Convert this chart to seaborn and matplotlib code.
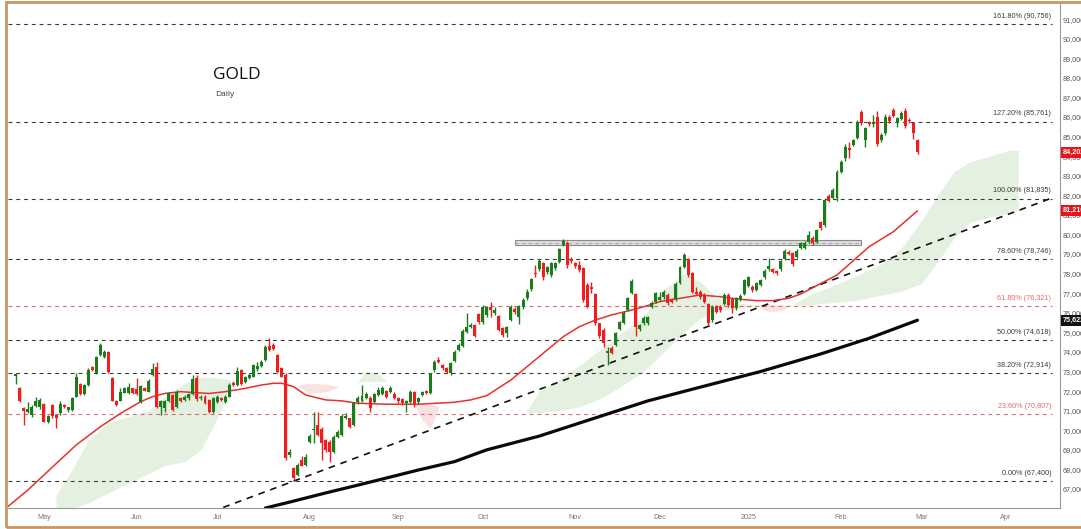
import pandas as pd
import seaborn as sns
import matplotlib.pyplot as plt
from matplotlib.patches import Rectangle

# ---------------- data ----------------
first_day = '2024-04-22'
last_day = '2025-02-28'

opens = [
    72750, 72160, 71120, 70950, 70780, 71240, 71200, 71340, 70440, 71290,
    70780, 70870, 71290, 71060, 71030, 71720, 72360, 71850, 72310, 73210,
    72870, 73840, 73760, 74010, 72650, 71510, 71510, 71920, 71890, 72140,
    72090, 71460, 72140, 71970, 72820, 73210, 71170, 71130, 71510, 71800,
    71210, 71630, 71550, 71630, 71850, 72650, 71650, 71720, 71550, 70950,
    71460, 71630, 71460, 71720, 72430, 72310, 73080, 72480, 72650, 72740,
    73110, 73300, 73590, 74300, 74350, 73840, 73160, 72820, 68740, 68060,
    67720, 68480, 68230, 69420, 70000, 70270, 70050, 69500, 69420, 68910,
    69680, 69760, 70610, 70610, 70270, 71430, 71500, 71630, 71670, 71430,
    71800, 71840, 72000, 71940, 71870, 71630, 71600, 71390, 71460, 71940,
    71430, 71800, 72000, 71890, 73080, 73590, 73330, 73200, 72900, 73540,
    74100, 74320, 75040, 75290, 75380, 75920, 75520, 75890, 76280, 75970,
    75840, 75200, 74980, 75630, 76210, 75770, 76280, 76740, 77200, 78050,
    78220, 78530, 78100, 77930, 78270, 78610, 79460, 79580, 78730, 78530,
    78440, 78270, 77420, 77330, 76960, 75460, 75120, 73960, 74190, 74360,
    75160, 75500, 76140, 77030, 76960, 75150, 75460, 75490, 76310, 76570,
    76650, 76790, 76910, 76680, 76690, 77500, 78350, 78730, 78010, 77080,
    77080, 76910, 76450, 75630, 76350, 76310, 76450, 76910, 76690, 76230,
    76690, 76960, 77370, 77300, 77160, 77420, 77810, 78220, 78220, 78150,
    78220, 78730, 79120, 79040, 78870, 79290, 79330, 79630, 79840, 79630,
    80650, 80480, 81980, 81850, 81850, 83210, 83890, 84400, 84570, 84910,
    86270, 84830, 85730, 85630, 86020, 84830, 85160, 86020, 86360, 85680,
    85900, 86310, 85850, 85680, 84820,
]
highs = [
    72950, 72220, 71200, 71460, 71290, 71700, 71650, 71400, 70800, 71320,
    70850, 71510, 71350, 71200, 71720, 72940, 72400, 72350, 73200, 73300,
    73800, 74440, 74100, 74050, 72700, 71550, 72140, 72200, 72400, 72180,
    72650, 72300, 72200, 72600, 73420, 73500, 71550, 71550, 71950, 71850,
    72050, 71700, 71800, 71900, 72820, 72820, 71800, 71780, 71600, 71700,
    71800, 71700, 71800, 72400, 72500, 73250, 73120, 72750, 72900, 73400,
    73500, 73600, 74350, 74690, 74450, 73900, 73250, 72900, 69060, 68100,
    68350, 68690, 68800, 69800, 70950, 70950, 70150, 69550, 69500, 69750,
    70000, 70850, 70870, 70650, 71450, 71750, 72310, 71950, 71750, 71900,
    72200, 72280, 72050, 72250, 71950, 71700, 71650, 71550, 72050, 72000,
    71700, 72000, 72050, 72950, 73600, 73760, 73400, 73250, 73500, 74100,
    74450, 75150, 75970, 75500, 75450, 76000, 76400, 76350, 76570, 76280,
    75900, 75250, 75350, 76400, 76300, 76420, 76740, 77200, 77800, 78440,
    78750, 78600, 78400, 78600, 78600, 79300, 79750, 79650, 78850, 78600,
    78660, 78350, 77500, 77590, 77000, 75500, 75200, 74270, 74300, 75000,
    75600, 76100, 76800, 77700, 77000, 75450, 75850, 75850, 76600, 77050,
    77080, 77150, 76990, 76750, 77550, 78400, 79030, 78800, 78100, 77330,
    77150, 76990, 76500, 76400, 76400, 76380, 76990, 76990, 76750, 76800,
    76950, 77750, 77900, 77400, 77550, 77750, 78250, 78780, 78300, 78200,
    78720, 79250, 79200, 79100, 79250, 79600, 79650, 80180, 79900, 80300,
    80700, 81850, 82050, 82350, 83300, 83800, 84600, 84740, 84900, 85830,
    86350, 85500, 85800, 86100, 86300, 85200, 86150, 86100, 86480, 86000,
    86300, 86480, 85950, 85750, 84900,
]
lows = [
    72360, 71460, 70270, 70900, 70660, 71200, 71100, 70400, 70350, 70640,
    70100, 70800, 71150, 70950, 71000, 71700, 71800, 71800, 72280, 73050,
    72850, 73800, 73700, 72950, 71480, 71250, 71480, 71880, 71850, 71850,
    71800, 71400, 71980, 71950, 72780, 71150, 70780, 70950, 71450, 70980,
    71150, 71450, 71500, 71550, 71800, 71500, 71550, 71350, 70900, 70900,
    71400, 71500, 71400, 71680, 72280, 72250, 72300, 72400, 72600, 72700,
    73050, 73250, 73550, 74050, 74100, 72950, 72700, 68500, 68650, 67460,
    67650, 68150, 68200, 69350, 69330, 69700, 68480, 68900, 68400, 68850,
    69600, 69700, 70550, 70100, 70200, 71350, 71450, 71580, 70950, 71380,
    71750, 71800, 71650, 71900, 71580, 71400, 71300, 70950, 71400, 71200,
    71350, 71750, 71850, 71850, 73000, 73420, 73100, 72950, 72820, 73500,
    74050, 74250, 74980, 75200, 74750, 75450, 75450, 75800, 75770, 75900,
    75050, 74780, 74750, 75560, 75950, 75430, 76200, 76650, 77120, 77840,
    78150, 77650, 78000, 77850, 78200, 78550, 79400, 78300, 78550, 78300,
    78100, 76550, 76250, 76990, 75400, 74700, 74270, 73340, 73900, 74300,
    75100, 75450, 76080, 76950, 74810, 75050, 75400, 75400, 76250, 76500,
    76600, 76720, 76400, 76500, 76600, 77450, 78300, 77850, 77000, 76900,
    76720, 76500, 75380, 75550, 75980, 76050, 76380, 76300, 75980, 76150,
    76620, 76900, 77300, 77050, 77100, 77350, 77750, 78150, 78050, 77950,
    78150, 78680, 78950, 78400, 78800, 79250, 79250, 79580, 79460, 79580,
    80230, 80400, 81650, 81800, 81710, 83150, 83750, 83890, 84500, 84850,
    85600, 84480, 85550, 85500, 84500, 84700, 85100, 85700, 86000, 85500,
    85850, 85450, 85700, 84900, 84100,
]
closes = [
    72850, 71500, 71000, 71100, 71200, 71510, 71550, 70440, 70730, 70730,
    70610, 71340, 71170, 71170, 71630, 72700, 71850, 72310, 73080, 73080,
    73720, 74350, 74010, 72990, 71510, 71290, 71970, 72140, 72230, 71890,
    71850, 72260, 72020, 72530, 73110, 71210, 71510, 71510, 71890, 71030,
    71970, 71510, 71720, 71850, 72600, 71580, 71700, 71410, 70950, 71630,
    71720, 71550, 71720, 72310, 72310, 73040, 72360, 72700, 72820, 73330,
    73300, 73500, 74270, 74100, 74130, 72990, 72740, 68570, 68910, 67550,
    68230, 68180, 68650, 69710, 70010, 69760, 69330, 68990, 68910, 69680,
    69930, 70750, 70750, 70180, 71370, 71670, 71750, 71850, 71150, 71840,
    72060, 72140, 71720, 72140, 71630, 71500, 71380, 71490, 71970, 71330,
    71630, 71940, 71900, 72900, 73500, 73470, 73160, 72990, 73420, 74010,
    74350, 75070, 75290, 75380, 74830, 75550, 76310, 76280, 76140, 76140,
    75120, 74870, 75260, 76310, 76060, 76350, 76650, 77080, 77710, 77980,
    78660, 77810, 78320, 78530, 78530, 79240, 79670, 78440, 78660, 78390,
    78190, 76650, 76310, 77200, 75460, 74810, 74440, 74070, 73960, 74950,
    75550, 76010, 76740, 77640, 75290, 75380, 75750, 75770, 76520, 76990,
    76820, 77080, 76480, 76570, 77470, 78320, 78950, 77930, 77080, 76960,
    76790, 76570, 75460, 76310, 76060, 76140, 76910, 76400, 76230, 76740,
    76860, 77670, 77840, 77160, 77500, 77670, 78150, 78390, 78100, 78020,
    78660, 79170, 79000, 78490, 79170, 79550, 79550, 79970, 79550, 80230,
    80350, 81760, 81710, 82270, 83210, 83720, 84480, 84310, 84830, 85760,
    85680, 85420, 85630, 85760, 84600, 85080, 86020, 85790, 86070, 85930,
    86190, 85560, 85790, 85160, 84202,
]

fib_names = ['161.80%', '127.20%', '100.00%', '78.60%', '61.80%',
             '50.00%', '38.20%', '23.60%', '0.00%']
fib_values = [90756, 85761, 81835, 78746, 76321, 74618, 72914, 70807, 67400]
fib_red = ['61.80%', '23.60%']

ma50_dates = ['2024-04-18', '2024-04-25', '2024-05-13', '2024-05-21', '2024-05-28',
              '2024-06-04', '2024-06-07', '2024-06-12', '2024-06-18', '2024-06-27',
              '2024-07-03', '2024-07-10', '2024-07-16', '2024-07-19', '2024-07-23',
              '2024-07-26', '2024-07-31', '2024-08-07', '2024-08-13', '2024-08-19',
              '2024-08-28', '2024-09-09', '2024-09-20', '2024-09-26', '2024-10-02',
              '2024-10-10', '2024-10-17', '2024-10-23', '2024-10-29', '2024-11-04',
              '2024-11-08', '2024-11-14', '2024-11-21', '2024-11-26', '2024-12-02',
              '2024-12-09', '2024-12-16', '2024-12-23', '2024-12-30', '2025-01-03',
              '2025-01-09', '2025-01-15', '2025-01-20', '2025-01-31', '2025-02-12',
              '2025-02-20', '2025-02-28']
ma50_values = [66100, 66950, 69250, 70180, 70860,
               71460, 71720, 71880, 71970, 71880,
               71970, 72140, 72310, 72400, 72400,
               72230, 71800, 71550, 71500, 71380,
               71330, 71330, 71430, 71550, 71770,
               72570, 73420, 74100, 74780, 75290,
               75630, 75890, 76140, 76310, 76570,
               76740, 76910, 76820, 76690, 76620,
               76620, 76740, 76960, 77930, 79380,
               80140, 81210]

ma200_dates = ['2024-07-17', '2024-07-25', '2024-08-07', '2024-08-20', '2024-09-09',
               '2024-09-20', '2024-10-02', '2024-10-21', '2024-11-11', '2024-11-27',
               '2024-12-16', '2025-01-06', '2025-01-27', '2025-02-12', '2025-02-28']
ma200_values = [66030, 66330, 66800, 67250, 67970,
                68400, 69000, 69700, 70700, 71500,
                72200, 73000, 73900, 74700, 75622]

trend_dates = ['2024-07-26', '2025-02-28']
trend_values = [67400, 79300]

# ichimoku cloud pieces: dates, upper edge, lower edge
cloud_g1_dates = ['2024-05-06', '2024-05-10', '2024-05-16', '2024-05-23', '2024-05-30',
                  '2024-06-06', '2024-06-12', '2024-06-19', '2024-06-25', '2024-06-28',
                  '2024-07-04', '2024-07-05']
cloud_g1_top = [66700, 68000, 69500, 70400, 70700, 71000, 71700, 72400, 72700, 72700, 72600, 72300]
cloud_g1_bot = [66000, 66000, 66300, 66800, 67300, 67800, 68200, 68400, 69000, 70200, 71900, 72300]

cloud_g2_dates = ['2024-08-19', '2024-08-21', '2024-08-26', '2024-08-28']
cloud_g2_top = [72500, 73000, 72900, 72550]
cloud_g2_bot = [72450, 72500, 72500, 72500]

cloud_g3_dates = ['2024-10-16', '2024-10-21', '2024-10-28', '2024-11-04', '2024-11-11',
                  '2024-11-18', '2024-11-26', '2024-12-03', '2024-12-10', '2024-12-16',
                  '2024-12-20', '2024-12-27', '2025-01-03']
cloud_g3_top = [71000, 72000, 72600, 73300, 74100, 74900, 75800, 77200, 78000, 77600,
                76800, 76500, 76400]
cloud_g3_bot = [70900, 70900, 71000, 71200, 71600, 72200, 73000, 74000, 75000, 75700,
                76100, 76200, 76350]

cloud_g4_dates = ['2025-01-16', '2025-01-22', '2025-01-29', '2025-02-07', '2025-02-17',
                  '2025-02-24', '2025-03-03', '2025-03-07', '2025-03-13', '2025-03-19',
                  '2025-03-26', '2025-04-02', '2025-04-04']
cloud_g4_top = [76420, 76900, 77300, 77900, 78500, 79300, 80700, 82000, 83200, 83700,
                84000, 84300, 84300]
cloud_g4_bot = [76400, 76400, 76500, 76650, 76900, 77100, 77500, 78600, 79800, 80600,
                80900, 81100, 81200]

cloud_r1_dates = ['2024-07-29', '2024-08-01', '2024-08-07', '2024-08-12']
cloud_r1_top = [72300, 72400, 72350, 72250]
cloud_r1_bot = [72250, 71900, 71950, 72200]

cloud_r2_dates = ['2024-09-06', '2024-09-10', '2024-09-12', '2024-09-16']
cloud_r2_top = [71350, 71350, 71300, 71250]
cloud_r2_bot = [71300, 70500, 70100, 71100]

cloud_r3_dates = ['2025-01-03', '2025-01-08', '2025-01-13', '2025-01-16']
cloud_r3_top = [76400, 76450, 76400, 76420]
cloud_r3_bot = [76350, 76050, 76100, 76400]

zone_dates = ['2024-10-11', '2025-02-10']
zone_values = [79440, 79710]

month_dates = ['2024-05-01', '2024-06-03', '2024-07-01', '2024-08-01', '2024-09-02',
               '2024-10-01', '2024-11-01', '2024-12-02', '2025-01-01', '2025-02-03',
               '2025-03-03', '2025-04-01']
month_labels = ['May', 'Jun', 'Jul', 'Aug', 'Sep', 'Oct', 'Nov', 'Dec', '2025', 'Feb', 'Mar', 'Apr']

tag_values = [84202, 81210, 75622]
tag_colors = ['#e8141c', '#e8141c', '#111111']

# ---------------- trading-day axis ----------------
cal = pd.bdate_range('2024-04-01', '2025-04-30')
origin = cal.get_loc(pd.Timestamp('2024-05-01'))


def pos(day):
    return cal.get_loc(pd.Timestamp(day)) - origin


def positions(days):
    return [pos(d) for d in days]


candle_x = positions(pd.bdate_range(first_day, last_day))
df = pd.DataFrame({'x': candle_x, 'open': opens, 'high': highs, 'low': lows, 'close': closes})

sns.set_theme(style='white')
plt.rcParams['font.family'] = ['Liberation Sans', 'DejaVu Sans']

W, H = 1081, 529
fig = plt.figure(figsize=(W / 100, H / 100), dpi=100)
ax = fig.add_axes([8 / W, 21 / H, 1052 / W, 504 / H])
ax.set_xlim(-8.94, 252.4)
ax.set_ylim(66030, 91770)

# cloud
for d, t, b in [(cloud_g1_dates, cloud_g1_top, cloud_g1_bot),
                (cloud_g2_dates, cloud_g2_top, cloud_g2_bot),
                (cloud_g3_dates, cloud_g3_top, cloud_g3_bot),
                (cloud_g4_dates, cloud_g4_top, cloud_g4_bot)]:
    ax.fill_between(positions(d), b, t, color='#e4f1e1', lw=0, zorder=0.5)
for d, t, b in [(cloud_r1_dates, cloud_r1_top, cloud_r1_bot),
                (cloud_r2_dates, cloud_r2_top, cloud_r2_bot),
                (cloud_r3_dates, cloud_r3_top, cloud_r3_bot)]:
    ax.fill_between(positions(d), b, t, color='#fbe2e2', lw=0, zorder=0.5)

# fibonacci levels
for name, val in zip(fib_names, fib_values):
    col = '#e06a6a' if name in fib_red else '#3a3a3a'
    ax.axhline(val, xmin=0, xmax=0.9925, color=col, lw=0.8, ls=(0, (3.5, 3.5)), zorder=1)
    ax.annotate(f'{name} ({val:,})', xy=(250.2, val), xytext=(0, 3), textcoords='offset points',
                ha='right', va='bottom', fontsize=5.2, color=col, zorder=5)

# resistance zone
zx = positions(zone_dates)
ax.add_patch(Rectangle((zx[0], zone_values[0]), zx[1] - zx[0], zone_values[1] - zone_values[0],
                       facecolor='#dcdcdc', edgecolor='#8c8c8c', lw=0.8, zorder=2))
ax.plot(zx, [(zone_values[0] + zone_values[1]) / 2] * 2, color='#ababab', lw=0.8,
        ls=(0, (3, 3)), zorder=2.1)

# trend line
tx = positions(trend_dates)
slope = (trend_values[1] - trend_values[0]) / (tx[1] - tx[0])
tx_full = [30, 250.2]
ty_full = [trend_values[0] + slope * (x - tx[0]) for x in tx_full]
ax.plot(tx_full, ty_full, color='#111111', lw=1.2, ls=(0, (4, 3.5)), zorder=2.2)

# moving averages
sns.lineplot(x=positions(ma200_dates), y=ma200_values, ax=ax, color='#0a0a0a', lw=2.3,
             estimator=None, sort=False, zorder=2.3)
sns.lineplot(x=positions(ma50_dates), y=ma50_values, ax=ax, color='#e8302e', lw=1.1,
             estimator=None, sort=False, zorder=2.4)

# candles
up = df['close'] >= df['open']
colors = ['#1a7d1a' if u else '#f21c1c' for u in up]
ax.vlines(df['x'], df['low'], df['high'], colors=colors, lw=1.0, zorder=3)
body_lo = df[['open', 'close']].min(axis=1)
body_h = (df['close'] - df['open']).abs().clip(lower=50)
ax.bar(df['x'], body_h, bottom=body_lo, width=0.74, color=colors, lw=0, zorder=3.1)

# axes styling
for s in ['top', 'left']:
    ax.spines[s].set_visible(False)
for s in ['bottom', 'right']:
    ax.spines[s].set_color('#9a9a9a')
    ax.spines[s].set_linewidth(0.8)
ax.yaxis.tick_right()
ax.set_yticks(range(67000, 91001, 1000))
ax.set_yticklabels([f'{v:,}' for v in range(67000, 91001, 1000)])
ax.set_xticks(positions(month_dates))
ax.set_xticklabels(month_labels)
ax.tick_params(axis='y', length=0, pad=2.2, labelsize=5.2, labelcolor='#555555')
ax.tick_params(axis='x', length=0, pad=4.5, labelsize=5.2, labelcolor='#777777')
ax.grid(False)
ax.set_xlabel('')
ax.set_ylabel('')

# price tags on the right axis
for val, col in zip(tag_values, tag_colors):
    ax.annotate(f'{val:,}', xy=(1, val), xycoords=('axes fraction', 'data'),
                xytext=(2.2, 0), textcoords='offset points', ha='left', va='center',
                fontsize=5.2, color='white', fontweight='bold', annotation_clip=False,
                bbox=dict(boxstyle='square,pad=0.3', fc=col, ec='none'), zorder=6)

# titles
fig.text(213 / W, 1 - 75 / H, 'GOLD', fontsize=12.5, va='center', ha='left',
         color='#111111', family=['Open Sans', 'DejaVu Sans'])
fig.text(215 / W, 1 - 95 / H, 'Daily', fontsize=6, va='center', ha='left',
         color='#333333', family=['Open Sans', 'DejaVu Sans'])

# outer frame
fig.patches.append(Rectangle((6 / W, 2 / H), 1.2, 1 - 3.5 / H, transform=fig.transFigure,
                             fill=False, edgecolor='#c99660', lw=2.0, zorder=10))

fig.savefig('out.png', dpi=100)
